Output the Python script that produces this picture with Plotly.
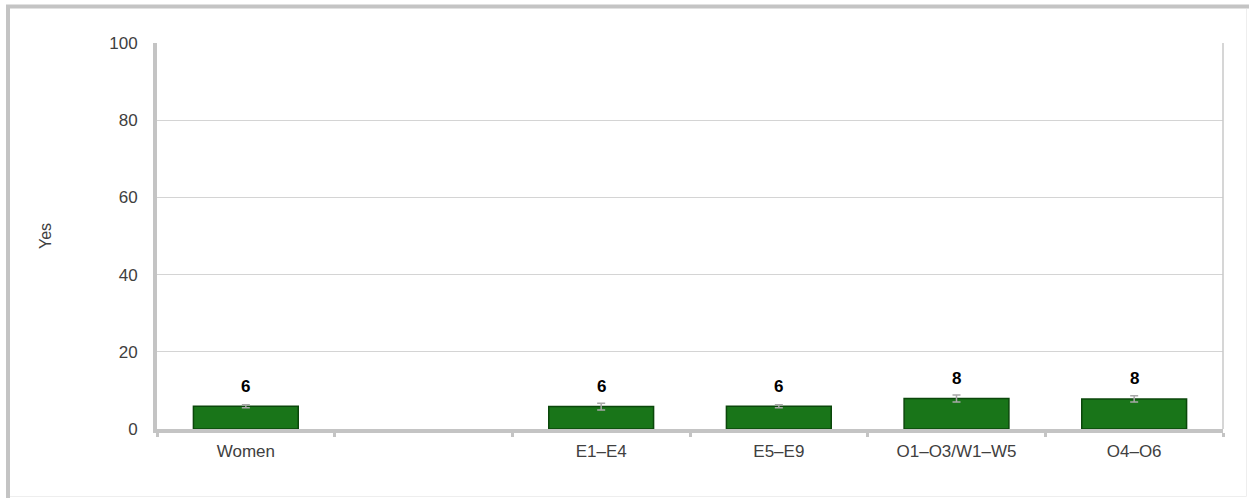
import plotly.graph_objects as go

categories = ["Women", " ", "E1–E4", "E5–E9", "O1–O3/W1–W5", "O4–O6"]
values = [5.9, None, 5.8, 5.9, 7.9, 7.8]
errors = [0.4, None, 0.9, 0.4, 0.9, 0.8]
labels = ["6", "", "6", "6", "8", "8"]

W, H = 1249, 498
ml, mt = 157, 43
mr = W - 1223
mb = H - 429
pw = W - ml - mr
ph = H - mt - mb

FONT = "Liberation Sans, Arial"

fig = go.Figure()
fig.add_trace(go.Bar(
    x=categories, y=values,
    width=0.59,
    marker=dict(color="#197519", line=dict(color="#0b470b", width=1.5)),
    error_y=dict(type="data", array=errors, visible=True,
                 color="#a8a8a8", thickness=1.5, width=4),
    hoverinfo="skip",
))

for c, v, t in zip(categories, values, labels):
    if v is None:
        continue
    fig.add_annotation(x=c, y=v, text=f"<b>{t}</b>", showarrow=False,
                       yshift=20, font=dict(family=FONT, size=17, color="#000000"))

def px2x(p):
    return (p - ml) / pw

def py2y(p):
    return 1 - (p - mt) / ph

fig.add_annotation(x=px2x(45), y=0.5, xref="paper", yref="paper",
                   xanchor="center", yanchor="middle",
                   text="Yes", textangle=-90, showarrow=False,
                   font=dict(family=FONT, size=16, color="#404040"))

# outer frame: thick left and top, faint right and bottom
fig.add_shape(type="line", xref="paper", yref="paper", x0=px2x(8), x1=px2x(8), y0=py2y(5), y1=py2y(498),
              line=dict(color="#c4c4c4", width=4))
fig.add_shape(type="line", xref="paper", yref="paper", x0=px2x(6), x1=px2x(1249), y0=py2y(6.5), y1=py2y(6.5),
              line=dict(color="#c4c4c4", width=4))
fig.add_shape(type="line", xref="paper", yref="paper", x0=px2x(1246.5), x1=px2x(1246.5), y0=py2y(9), y1=py2y(496.5),
              line=dict(color="#eeeeee", width=1))
fig.add_shape(type="line", xref="paper", yref="paper", x0=px2x(10), x1=px2x(1246.5), y0=py2y(496.5), y1=py2y(496.5),
              line=dict(color="#eeeeee", width=1))
# right border of plot area
fig.add_shape(type="line", xref="paper", yref="paper", x0=1, x1=1, y0=0, y1=1,
              line=dict(color="#c8c8c8", width=1.5))

fig.update_layout(
    width=W, height=H,
    margin=dict(l=ml, r=mr, t=mt, b=mb),
    paper_bgcolor="white", plot_bgcolor="white",
    showlegend=False,
    font=dict(family=FONT, size=17, color="#404040"),
)
fig.update_yaxes(
    range=[0, 100], dtick=20, showgrid=True, gridcolor="#d4d4d4", gridwidth=1,
    showline=True, linecolor="#c4c4c4", linewidth=4,
    ticks="outside", ticklen=12, tickcolor="rgba(0,0,0,0)",
    tickfont=dict(size=17, color="#404040"), zeroline=False,
)
fig.update_xaxes(
    type="category", showline=True, linecolor="#c4c4c4", linewidth=4,
    tickson="boundaries", ticks="outside", ticklen=4, tickwidth=3, tickcolor="#c4c4c4",
    ticklabelstandoff=4,
    tickfont=dict(size=17, color="#404040"), showgrid=False,
)

fig.write_html(
    "out.html",
    config={"displayModeBar": False},
    post_script="document.body.style.margin='0';document.body.style.overflow='hidden';",
)
